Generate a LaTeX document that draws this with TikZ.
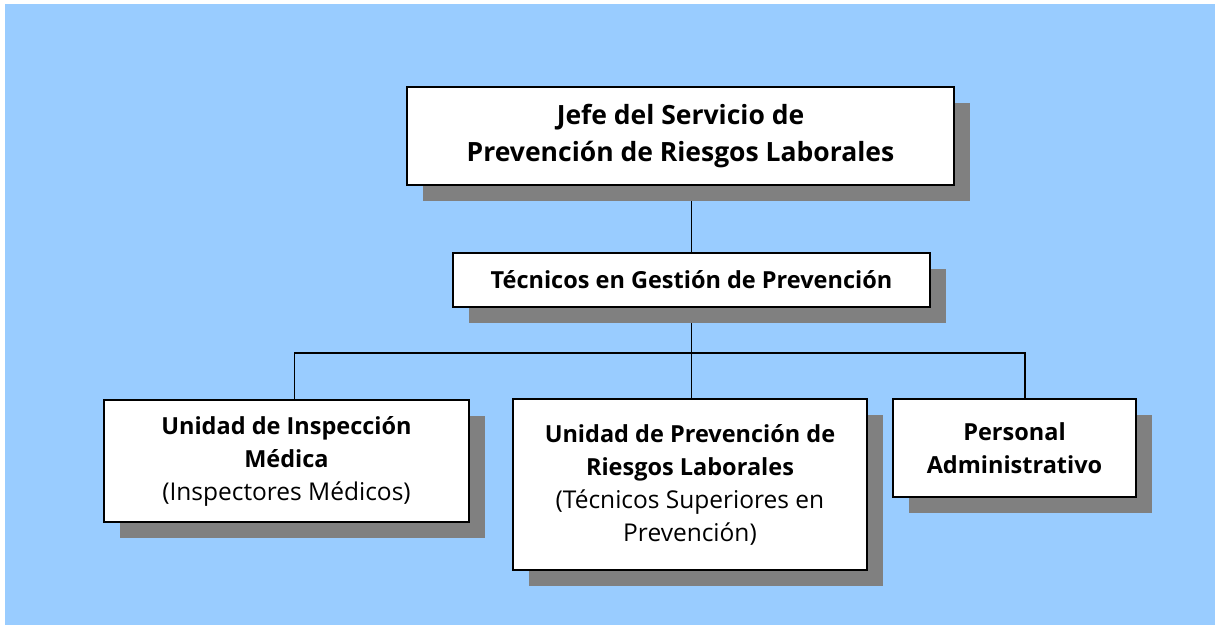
\documentclass[tikz,border=0pt]{standalone}
\usepackage{fontspec}
\setmainfont{Open Sans}
\usetikzlibrary{shadows,calc}
\definecolor{bgblue}{HTML}{99CCFF}
\definecolor{shadowgray}{HTML}{808080}
\pgfdeclarelayer{bglayer}
\pgfdeclarelayer{linelayer}
\pgfsetlayers{bglayer,linelayer,main}
\newcommand{\sublabel}{\mdseries\fontsize{24.5}{33}\selectfont}
\tikzset{
  orgbox/.style={draw=black, line width=2pt, fill=white, align=center,
    inner sep=0pt, font=\fontsize{23.5}{33}\selectfont\bfseries,
    drop shadow={shadow xshift=16pt, shadow yshift=-16pt, fill=shadowgray, opacity=1}},
  link/.style={draw=black, line width=1.8pt}
}
\begin{document}
\begin{tikzpicture}[x=1pt,y=-1pt]
\useasboundingbox (0,0) rectangle (1215,625);
\begin{pgfonlayer}{bglayer}
\fill[bgblue] (5,4) rectangle (1215,625);
\end{pgfonlayer}
\node[orgbox, minimum width=547pt, minimum height=98pt,
      font=\fontsize{26.5}{37}\selectfont\bfseries] (jefe) at (680.5,136)
  {Jefe del Servicio de\\Prevención de Riesgos Laborales};
\node[orgbox, minimum width=477pt, minimum height=54pt] (tec) at (691.5,280)
  {Técnicos en Gestión de Prevención};
\node[orgbox, minimum width=365pt, minimum height=122pt] (insp) at (286.5,461)
  {Unidad de Inspección\\Médica\\\sublabel(Inspectores Médicos)};
\node[orgbox, minimum width=354pt, minimum height=171pt] (prev) at (690,484.5)
  {Unidad de Prevención de\\Riesgos Laborales\\\sublabel(Técnicos Superiores en\\\sublabel Prevención)};
\node[orgbox, minimum width=243pt, minimum height=98pt] (pers) at (1014.5,448)
  {Personal\\Administrativo};
\begin{pgfonlayer}{linelayer}
\coordinate (hub) at ($(tec.south)+(0,45)$);
\draw[link] (tec.north |- jefe.south) -- (tec.north);
\draw[link] (tec.south) -- (hub);
\draw[link] ([xshift=8pt]insp.north) |- (hub) -| ([xshift=10.5pt]pers.north);
\draw[link] (hub) -- (hub |- prev.north);
\end{pgfonlayer}
\end{tikzpicture}
\end{document}
